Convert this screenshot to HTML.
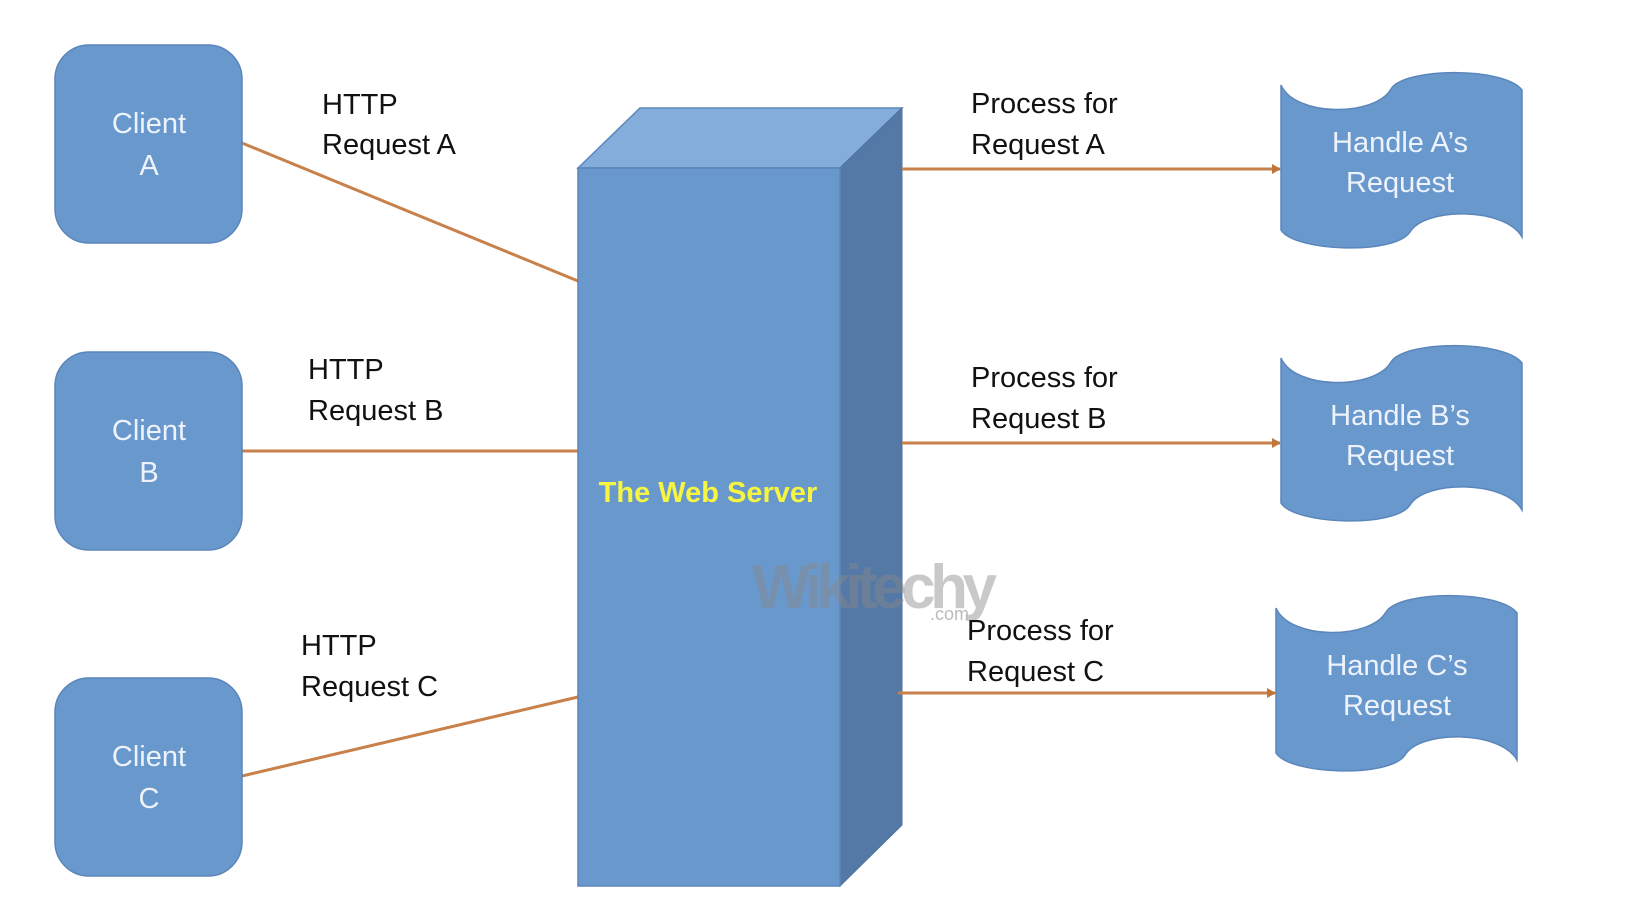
<!DOCTYPE html>
<html><head><meta charset="utf-8"><style>
html,body{margin:0;padding:0;background:#fff;}
svg{display:block;}
text{font-family:"Liberation Sans",sans-serif;}
</style></head><body>
<svg width="1642" height="910" viewBox="0 0 1642 910" xmlns="http://www.w3.org/2000/svg">
<defs>
<marker id="ar" markerWidth="10" markerHeight="10" refX="8" refY="5" orient="auto" markerUnits="userSpaceOnUse">
<path d="M0,0 L9,5 L0,10 Z" fill="#c0753a"/></marker>
</defs>
<g stroke="#c8814a" stroke-width="3" fill="none">
<line x1="242" y1="143" x2="578" y2="281"/>
<line x1="242" y1="451" x2="578" y2="451"/>
<line x1="242" y1="776" x2="578" y2="697"/>
</g>
<g fill="#6998cd" stroke="#5b86bb" stroke-width="1.5">
<rect x="55" y="45" width="187" height="198" rx="34"/>
<rect x="55" y="352" width="187" height="198" rx="34"/>
<rect x="55" y="678" width="187" height="198" rx="34"/>
</g>
<g fill="#eef3fb" font-size="29" text-anchor="middle">
<text x="149" y="133">Client</text><text x="149" y="175">A</text>
<text x="149" y="440">Client</text><text x="149" y="482">B</text>
<text x="149" y="766">Client</text><text x="149" y="808">C</text>
</g>
<!-- cube -->
<polygon points="578,168 640,108 902,108 840,168" fill="#85addb" stroke="#5b86bb" stroke-width="1.5"/>
<polygon points="840,168 902,108 902,825 840,886" fill="#5479a7" stroke="#4f729f" stroke-width="1"/>
<rect x="578" y="168" width="262" height="718" fill="#6998cd" stroke="#5b86bb" stroke-width="1.5"/>
<text x="708" y="502" font-size="29" font-weight="bold" fill="#f5f542" text-anchor="middle">The Web Server</text>
<text x="752" y="608" font-size="62" font-weight="bold" fill="#888" fill-opacity="0.45" font-family="Liberation Sans Narrow, Liberation Sans, sans-serif" textLength="245">Wikitechy</text>
<text x="930" y="620" font-size="18" fill="#bbb">.com</text>
<!-- arrows -->
<g stroke="#c8814a" stroke-width="3" fill="none" marker-end="url(#ar)">
<line x1="902" y1="169" x2="1280" y2="169"/>
<line x1="902" y1="443" x2="1280" y2="443"/>
<line x1="898" y1="693" x2="1275" y2="693"/>
</g>
<!-- handles -->
<g fill="#6998cd" stroke="#5b86bb" stroke-width="1.5">
<path d="M1276,608 C1290,640 1370,640 1386,612 C1400,590 1500,590 1517,613 L1517,760 C1500,730 1420,730 1405,755 C1390,778 1290,775 1276,753 Z"/>
<path d="M1276,608 C1290,640 1370,640 1386,612 C1400,590 1500,590 1517,613 L1517,760 C1500,730 1420,730 1405,755 C1390,778 1290,775 1276,753 Z" transform="translate(5,-523)"/>
<path d="M1276,608 C1290,640 1370,640 1386,612 C1400,590 1500,590 1517,613 L1517,760 C1500,730 1420,730 1405,755 C1390,778 1290,775 1276,753 Z" transform="translate(5,-250)"/>
</g>
<g fill="#eef3fb" font-size="29" text-anchor="middle">
<text x="1400" y="152">Handle A’s</text><text x="1400" y="192">Request</text>
<text x="1400" y="425">Handle B’s</text><text x="1400" y="465">Request</text>
<text x="1397" y="675">Handle C’s</text><text x="1397" y="715">Request</text>
</g>
<g fill="#111" font-size="29">
<text x="322" y="114">HTTP</text><text x="322" y="154">Request A</text>
<text x="308" y="379">HTTP</text><text x="308" y="420">Request B</text>
<text x="301" y="655">HTTP</text><text x="301" y="696">Request C</text>
<text x="971" y="113">Process for</text><text x="971" y="154">Request A</text>
<text x="971" y="387">Process for</text><text x="971" y="428">Request B</text>
<text x="967" y="640">Process for</text><text x="967" y="681">Request C</text>
</g>
</svg>
</body></html>
